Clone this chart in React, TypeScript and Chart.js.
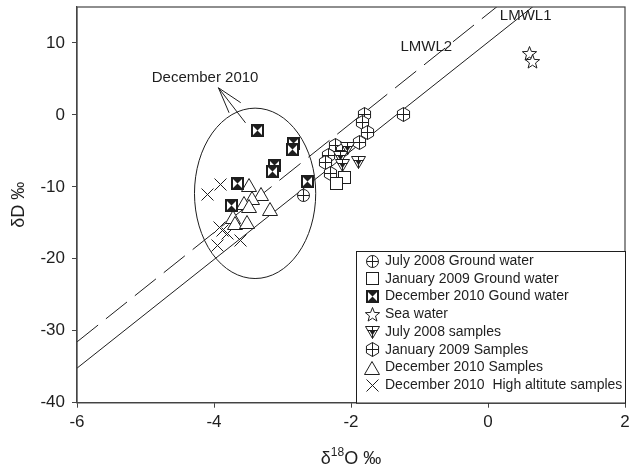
import React, { useEffect, useRef } from "react";
import { Chart, registerables } from "chart.js";
Chart.register(...registerables);

// ---- data ----
const xTicks = [-6, -4, -2, 0, 2];
const yTicks = [-40, -30, -20, -10, 0, 10];

const july2008GW = [{ x: -2.7, y: -11.2 }];
const jan2009GW = [
  { x: -2.09, y: -8.7 },
  { x: -2.21, y: -9.5 },
];
const dec2010GW = [
  { x: -3.36, y: -2.2 },
  { x: -2.84, y: -4.0 },
  { x: -2.86, y: -4.8 },
  { x: -3.12, y: -7.1 },
  { x: -3.15, y: -7.8 },
  { x: -3.66, y: -9.5 },
  { x: -3.75, y: -12.6 },
  { x: -2.64, y: -9.2 },
];
const seaWater = [
  { x: 0.6, y: 8.6 },
  { x: 0.65, y: 7.4 },
];
const july2008S = [
  { x: -2.05, y: -4.6 },
  { x: -2.15, y: -5.9 },
  { x: -2.13, y: -7.1 },
  { x: -1.89, y: -6.6 },
];
const jan2009S = [
  { x: -1.8, y: 0.1 },
  { x: -1.83, y: -1.1 },
  { x: -1.76, y: -2.5 },
  { x: -1.87, y: -3.9 },
  { x: -1.24, y: 0.1 },
  { x: -2.23, y: -4.3 },
  { x: -2.33, y: -5.6 },
  { x: -2.12, y: -5.0 },
  { x: -2.37, y: -6.6 },
  { x: -2.3, y: -8.1 },
];
const dec2010S = [
  { x: -3.49, y: -9.7 },
  { x: -3.31, y: -11.0 },
  { x: -3.44, y: -11.6 },
  { x: -3.56, y: -12.2 },
  { x: -3.49, y: -12.7 },
  { x: -3.18, y: -13.1 },
  { x: -3.72, y: -14.2 },
  { x: -3.7, y: -15.0 },
  { x: -3.52, y: -14.9 },
];
const dec2010High = [
  { x: -4.09, y: -11.0 },
  { x: -3.9, y: -9.7 },
  { x: -3.92, y: -15.7 },
  { x: -3.88, y: -16.1 },
  { x: -3.81, y: -16.5 },
  { x: -3.95, y: -18.2 },
  { x: -3.61, y: -17.5 },
];
const lmwl1 = [
  { x: -6, y: -31.55 },
  { x: 2, y: 29.25 },
];
const lmwl2 = [
  { x: -6, y: -35.2 },
  { x: 2, y: 25.2 },
];

const legendLabels = [
  "July 2008 Ground water",
  "January 2009 Ground water",
  "December 2010 Gound water",
  "Sea water",
  "July 2008 samples",
  "January 2009 Samples",
  "December 2010 Samples",
  "December 2010  High altitute samples",
];

const INK = "#1e1e1e";
const FONT = "'Liberation Sans', Arial, Helvetica, sans-serif";
const N_POINT_SETS = 8;

function mk(w: number, h: number, draw: (c: CanvasRenderingContext2D) => void) {
  const c = document.createElement("canvas");
  c.width = w;
  c.height = h;
  const ctx = c.getContext("2d")!;
  ctx.strokeStyle = INK;
  ctx.fillStyle = INK;
  ctx.lineWidth = 1;
  draw(ctx);
  return c;
}

function makeSymbols() {
  const circlePlus = mk(15, 15, (c) => {
    c.beginPath();
    c.arc(7.5, 7.5, 6, 0, Math.PI * 2);
    c.fillStyle = "#fff";
    c.fill();
    c.stroke();
    c.beginPath();
    c.moveTo(1.5, 7.5);
    c.lineTo(13.5, 7.5);
    c.moveTo(7.5, 1.5);
    c.lineTo(7.5, 13.5);
    c.stroke();
  });
  const square = mk(13, 13, (c) => {
    c.fillStyle = "#fff";
    c.fillRect(0.5, 0.5, 12, 12);
    c.strokeRect(0.5, 0.5, 12, 12);
  });
  const bowtie = mk(13, 13, (c) => {
    c.fillStyle = "#fff";
    c.fillRect(0, 0, 13, 13);
    c.fillStyle = INK;
    c.beginPath();
    c.moveTo(1, 1);
    c.lineTo(12, 1);
    c.lineTo(6.5, 6.5);
    c.closePath();
    c.moveTo(1, 12);
    c.lineTo(12, 12);
    c.lineTo(6.5, 6.5);
    c.closePath();
    c.fill();
    c.lineWidth = 2;
    c.strokeRect(1, 1, 11, 11);
  });
  const star = mk(17, 17, (c) => {
    c.beginPath();
    for (let i = 0; i < 10; i++) {
      const r = i % 2 === 0 ? 7.5 : 3.2;
      const a = -Math.PI / 2 + (i * Math.PI) / 5;
      const px = 8.5 + r * Math.cos(a);
      const py = 9 + r * Math.sin(a);
      if (i === 0) c.moveTo(px, py);
      else c.lineTo(px, py);
    }
    c.closePath();
    c.fillStyle = "#fff";
    c.fill();
    c.stroke();
  });
  const triDownPlus = mk(15, 13, (c) => {
    c.beginPath();
    c.moveTo(0.5, 0.5);
    c.lineTo(14.5, 0.5);
    c.lineTo(7.5, 12.5);
    c.closePath();
    c.fillStyle = "#fff";
    c.fill();
    c.stroke();
    c.beginPath();
    c.moveTo(7.5, 0.5);
    c.lineTo(7.5, 12.5);
    c.moveTo(2.5, 4.5);
    c.lineTo(12.5, 4.5);
    c.stroke();
    c.fillStyle = INK;
    c.beginPath();
    c.moveTo(4.5, 4.5);
    c.lineTo(10.5, 4.5);
    c.lineTo(7.5, 9.5);
    c.closePath();
    c.fill();
  });
  const hexPlus = mk(15, 15, (c) => {
    c.beginPath();
    for (let i = 0; i < 6; i++) {
      const a = -Math.PI / 2 + (i * Math.PI) / 3;
      const px = 7.5 + 7 * Math.cos(a);
      const py = 7.5 + 7 * Math.sin(a);
      if (i === 0) c.moveTo(px, py);
      else c.lineTo(px, py);
    }
    c.closePath();
    c.fillStyle = "#fff";
    c.fill();
    c.stroke();
    c.beginPath();
    c.moveTo(1.5, 7.5);
    c.lineTo(13.5, 7.5);
    c.moveTo(7.5, 0.5);
    c.lineTo(7.5, 14.5);
    c.stroke();
  });
  const triUp = mk(16, 14, (c) => {
    c.beginPath();
    c.moveTo(8, 0.5);
    c.lineTo(15.5, 13.5);
    c.lineTo(0.5, 13.5);
    c.closePath();
    c.fillStyle = "#fff";
    c.fill();
    c.stroke();
  });
  const cross = mk(13, 13, (c) => {
    c.beginPath();
    c.moveTo(0.5, 0.5);
    c.lineTo(12.5, 12.5);
    c.moveTo(12.5, 0.5);
    c.lineTo(0.5, 12.5);
    c.stroke();
  });
  return [circlePlus, square, bowtie, star, triDownPlus, hexPlus, triUp, cross];
}

export default function App() {
  const ref = useRef<HTMLCanvasElement>(null);
  useEffect(() => {
    const canvas = ref.current!;
    const sym = makeSymbols();
    const series = [
      july2008GW,
      jan2009GW,
      dec2010GW,
      seaWater,
      july2008S,
      jan2009S,
      dec2010S,
      dec2010High,
    ];
    const pointSets = series.map((d, i) => ({
      label: legendLabels[i],
      data: d,
      pointStyle: sym[i],
      pointRadius: 6,
      showLine: false,
    }));

    const overlay = {
      id: "overlay",
      beforeDatasetsDraw(chart: any) {
        const { ctx, scales } = chart;
        const xs = scales.x;
        const ys = scales.y;
        const X = (v: number) => xs.getPixelForValue(v);
        const Y = (v: number) => ys.getPixelForValue(v);
        ctx.save();
        ctx.strokeStyle = INK;
        ctx.lineWidth = 1;
        // ellipse around Dec 2010
        const cx = X(-3.4);
        const cy = Y(-10.9);
        const rx = X(-3.4 + 0.885) - cx;
        const ry = cy - Y(-10.9 + 11.84);
        ctx.beginPath();
        ctx.ellipse(cx, cy, rx, ry, 0, 0, Math.PI * 2);
        ctx.stroke();
        // pointer lines
        const sx = X(-3.935);
        const sy = Y(3.77);
        const ends = [
          [-3.78, 0.3],
          [-3.61, 1.7],
          [-3.54, -1.1],
        ];
        ctx.beginPath();
        ends.forEach(([ex, ey]) => {
          ctx.moveTo(sx, sy);
          ctx.lineTo(X(ex), Y(ey));
        });
        ctx.stroke();
        ctx.restore();
      },
      // draw point datasets at pixel-snapped positions computed by the chart's scales
      beforeDatasetDraw(chart: any, args: any) {
        if (args.index >= N_POINT_SETS) return;
        const { ctx } = chart;
        const s = sym[args.index];
        ctx.save();
        args.meta.data.forEach((el: any) => {
          ctx.drawImage(s, Math.round(el.x - s.width / 2), Math.round(el.y - s.height / 2));
        });
        ctx.restore();
        return false;
      },
      afterDraw(chart: any) {
        const { ctx, scales, chartArea } = chart;
        const xs = scales.x;
        const ys = scales.y;
        const X = (v: number) => xs.getPixelForValue(v);
        const Y = (v: number) => ys.getPixelForValue(v);
        const { left, right, top, bottom } = chartArea;
        ctx.save();
        // frame
        ctx.strokeStyle = "#444";
        ctx.lineWidth = 1.2;
        ctx.strokeRect(left, top, right - left, bottom - top);
        // text annotations
        ctx.fillStyle = INK;
        ctx.textAlign = "center";
        ctx.textBaseline = "middle";
        ctx.font = `15px ${FONT}`;
        ctx.fillText("December 2010", X(-4.13), Y(5.2));
        ctx.fillText("LMWL1", X(0.55), Y(13.7));
        ctx.fillText("LMWL2", X(-0.9), Y(9.5));
        // legend
        const lw = 269;
        const lx = right - lw;
        const ly = 251;
        ctx.fillStyle = "#fff";
        ctx.fillRect(lx, ly, right - lx, bottom - ly);
        ctx.strokeStyle = INK;
        ctx.lineWidth = 1;
        ctx.strokeRect(lx + 0.5, ly + 0.5, right - lx, bottom - ly);
        ctx.font = `14px ${FONT}`;
        ctx.textAlign = "left";
        ctx.fillStyle = INK;
        legendLabels.forEach((t, i) => {
          const yy = ly + 10 + i * 17.75;
          const s = sym[i];
          ctx.drawImage(s, Math.round(lx + 16 - s.width / 2), Math.round(yy - s.height / 2));
          ctx.fillText(t, lx + 29, yy);
        });
        // axis titles
        ctx.fillStyle = INK;
        ctx.textBaseline = "alphabetic";
        const big = `18px ${FONT}`;
        const small = `12px ${FONT}`;
        ctx.font = big;
        const w1 = ctx.measureText("\u03B4").width;
        const w3 = ctx.measureText("O \u2030").width;
        ctx.font = small;
        const w2 = ctx.measureText("18").width;
        const total = w1 + w2 + w3;
        let px = (left + right) / 2 - total / 2;
        const base = 464;
        ctx.textAlign = "left";
        ctx.font = big;
        ctx.fillText("\u03B4", px, base);
        px += w1;
        ctx.font = small;
        ctx.fillText("18", px, base - 8);
        px += w2;
        ctx.font = big;
        ctx.fillText("O \u2030", px, base);
        // y title
        ctx.translate(19, (top + bottom) / 2);
        ctx.rotate(-Math.PI / 2);
        ctx.textAlign = "center";
        ctx.textBaseline = "middle";
        ctx.font = big;
        ctx.fillText("\u03B4D \u2030", 0, 0);
        ctx.restore();
      },
    };

    const axisCommon = {
      type: "linear" as const,
      grid: {
        drawOnChartArea: false,
        drawTicks: true,
        tickLength: 5,
        color: "#444",
        lineWidth: 1,
      },
      border: { display: true, color: "#444", width: 1.2 },
    };

    const chart = new Chart(canvas, {
      type: "scatter",
      data: {
        datasets: [
          ...pointSets,
          {
            label: "LMWL1",
            data: lmwl1,
            showLine: true,
            borderColor: INK,
            borderWidth: 1,
            borderDash: [27, 10],
            pointRadius: 0,
            fill: false,
          },
          {
            label: "LMWL2",
            data: lmwl2,
            showLine: true,
            borderColor: INK,
            borderWidth: 1,
            pointRadius: 0,
            fill: false,
          },
        ] as any,
      },
      options: {
        animation: false,
        responsive: false,
        devicePixelRatio: 1,
        layout: { padding: 0 },
        plugins: {
          legend: { display: false },
          tooltip: { enabled: false },
        },
        scales: {
          x: {
            ...axisCommon,
            min: -6,
            max: 2,
            afterBuildTicks: (s: any) => {
              s.ticks = xTicks.map((v) => ({ value: v }));
            },
            ticks: {
              color: INK,
              font: { family: FONT, size: 17 },
              padding: 4,
              maxRotation: 0,
              autoSkip: false,
            },
            afterFit: (s: any) => {
              s.height = 474 - 402.7;
              s.paddingLeft = 0;
              s.paddingRight = 4;
            },
          },
          y: {
            ...axisCommon,
            min: -40,
            max: 15,
            afterBuildTicks: (s: any) => {
              s.ticks = yTicks.map((v) => ({ value: v }));
            },
            ticks: {
              color: INK,
              font: { family: FONT, size: 17 },
              padding: 7,
              autoSkip: false,
            },
            afterFit: (s: any) => {
              s.width = 77;
              s.paddingTop = 5.6;
              s.paddingBottom = 0;
            },
          },
        },
      } as any,
      plugins: [overlay],
    });
    return () => chart.destroy();
  }, []);

  return (
    <canvas
      ref={ref}
      width={632}
      height={474}
      style={{ position: "fixed", left: 0, top: 0, width: 632, height: 474, display: "block" }}
    />
  );
}
